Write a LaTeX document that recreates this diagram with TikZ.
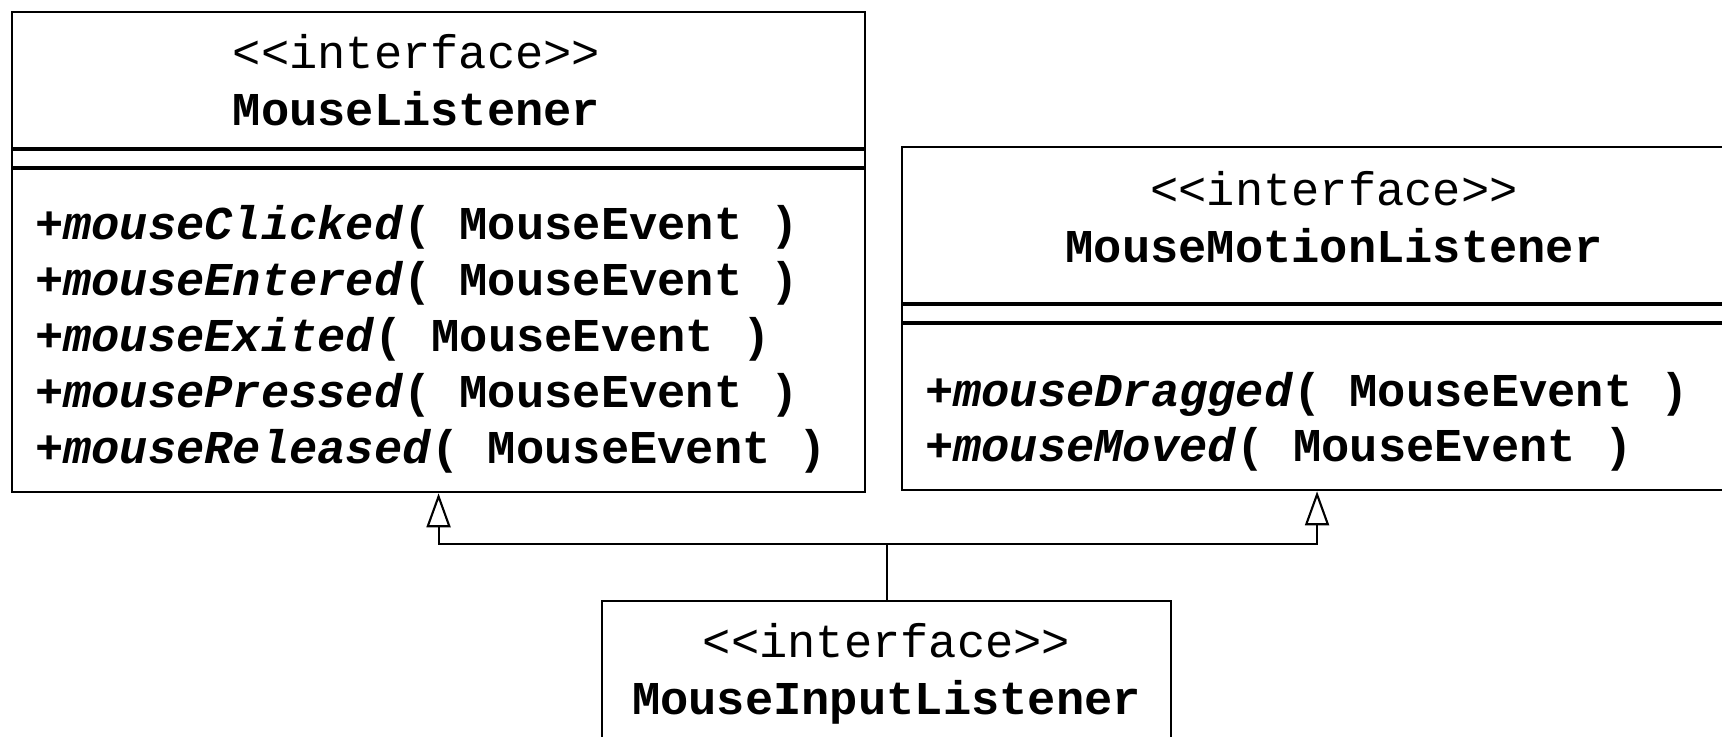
\documentclass[tikz,border=0pt]{standalone}
\usepackage{fontspec}
\setmonofont{Liberation Mono}
\usetikzlibrary{positioning}
\usetikzlibrary{arrows.meta}
\newcommand{\mevt}{(\hspace{0.6em}MouseEvent\hspace{0.6em})}

\begin{document}
\begin{tikzpicture}
[node distance=5.6mm,on grid,line width=0.6pt,
  every node/.style={font=\ttfamily\fontsize{13.4}{16.2}\selectfont},
  part/.style={draw,rectangle,anchor=north west,inner sep=0pt},
  head/.style={align=center,inner sep=0pt,font=\ttfamily\bfseries\fontsize{13.4}{16.2}\selectfont},
  op/.style={text width=8.2cm,align=left,inner sep=0pt,font=\ttfamily\bfseries\fontsize{13.4}{16.2}\selectfont},
  inh/.style={-{Triangle[open,length=3.4mm,width=2.4mm]}}]
\useasboundingbox (0,0) rectangle (17.22,-7.37);
%% MouseListener
\node[part,minimum width=8.53cm,minimum height=1.36cm] (mlh) at (0.11,-0.11) {};
\node[part,minimum width=8.53cm,minimum height=0.17cm] (mla) at (mlh.south west) {};
\node[part,minimum width=8.53cm,minimum height=3.23cm] (mlm) at (mla.south west) {};
\node[head] (ml) at ([xshift=-2.2mm]mlh.center) {{\mdseries <{}<interface>{}>}\\MouseListener};
\node[op,anchor=west] (mlop1) at ([xshift=2.3mm,yshift=-5.9mm]mlm.north west) {+\textit{mouseClicked}\mevt};
\node[op] (mlop2) [below=of mlop1] {+\textit{mouseEntered}\mevt};
\node[op] (mlop3) [below=of mlop2] {+\textit{mouseExited}\mevt};
\node[op] (mlop4) [below=of mlop3] {+\textit{mousePressed}\mevt};
\node[op] (mlop5) [below=of mlop4] {+\textit{mouseReleased}\mevt};
%% MouseMotionListener
\node[part,minimum width=8.30cm,minimum height=1.56cm] (mmh) at (9.01,-1.46) {};
\node[part,minimum width=8.30cm,minimum height=0.17cm] (mma) at (mmh.south west) {};
\node[part,minimum width=8.30cm,minimum height=1.66cm] (mmm) at (mma.south west) {};
\node[head] (mml) at ([xshift=1.7mm,yshift=0.8mm]mmh.center) {{\mdseries <{}<interface>{}>}\\MouseMotionListener};
\node[op,anchor=west] (mmop1) at ([xshift=2.3mm,yshift=-7.1mm]mmm.north west) {+\textit{mouseDragged}\mevt};
\node[op] (mmop2) [below=5.5mm of mmop1] {+\textit{mouseMoved}\mevt};
%% MouseInputListener
\node[part,minimum width=5.69cm,minimum height=1.40cm] (milh) at (6.01,-6.00) {};
\node[head] (mil) at ([yshift=-0.3mm]milh.center) {{\mdseries <{}<interface>{}>}\\MouseInputListener};
%% generalisation
\coordinate[above=5.6mm of milh.north] (j);
\draw (milh) -- (j);
\draw[inh] (j) -| (mlm.south);
\draw[inh] (j) -| (mmm.south);
\end{tikzpicture}
\end{document}
